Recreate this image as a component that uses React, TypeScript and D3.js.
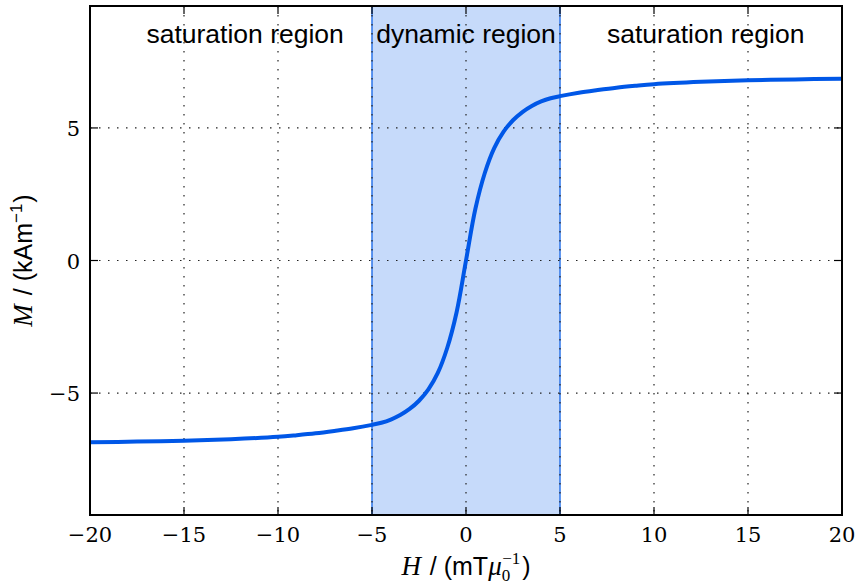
import React, { useEffect, useRef } from 'react';
import * as d3 from 'd3';

// magnetisation curve
const hValues = [-20, -17.5, -15, -12.5, -10, -9, -8, -7, -6, -5, -4.5, -4, -3.5, -3, -2.5, -2, -1.5, -1, -0.5, 0,
  0.5, 1, 1.5, 2, 2.5, 3, 3.5, 4, 4.5, 5, 6, 7, 8, 9, 10, 12.5, 15, 17.5, 20];
const mValues = [-6.86, -6.83, -6.8, -6.74, -6.65, -6.59, -6.52, -6.43, -6.33, -6.2, -6.12, -6.0, -5.83, -5.6, -5.29, -4.86, -4.24, -3.3, -1.95, 0,
  1.95, 3.3, 4.24, 4.86, 5.29, 5.6, 5.83, 6.0, 6.12, 6.2, 6.33, 6.43, 6.52, 6.59, 6.65, 6.74, 6.8, 6.83, 6.86];

const xTicks = [-20, -15, -10, -5, 0, 5, 10, 15, 20];
const yTicks = [-5, 0, 5];
const dynamicSpan = [-5, 5];
const regionLabels = ['saturation region', 'dynamic region', 'saturation region'];
const regionCenters = [-11.75, 0, 12.75];

const width = 858;
const height = 585;
const margin = { top: 6, right: 16, bottom: 70, left: 90 };

const serif = '"DejaVu Serif", "Liberation Serif", serif';
const mathSerif = '"Liberation Serif", "DejaVu Serif", serif';
const sans = '"Liberation Sans", Arial, sans-serif';

const fmt = (v: number) => (v < 0 ? `\u2212${Math.abs(v)}` : `${v}`);

export default function App() {
  const svgRef = useRef<SVGSVGElement | null>(null);

  useEffect(() => {
    if (!svgRef.current) return;
    const svg = d3.select(svgRef.current);
    svg.selectAll('*').remove();

    const innerWidth = width - margin.left - margin.right;
    const innerHeight = height - margin.top - margin.bottom;

    const x = d3.scaleLinear().domain([-20, 20]).range([0, innerWidth]);
    const y = d3.scaleLinear().domain([-9.6, 9.6]).range([innerHeight, 0]);

    const g = svg.append('g').attr('transform', `translate(${margin.left},${margin.top})`);

    // shaded dynamic region
    g.append('rect')
      .attr('x', x(dynamicSpan[0]))
      .attr('y', 0)
      .attr('width', x(dynamicSpan[1]) - x(dynamicSpan[0]))
      .attr('height', innerHeight)
      .attr('fill', '#c6dafa');
    dynamicSpan.forEach(v => {
      g.append('line')
        .attr('x1', x(v)).attr('x2', x(v))
        .attr('y1', 0).attr('y2', innerHeight)
        .attr('stroke', '#2b74ea')
        .attr('stroke-width', 1.5);
    });

    // grid
    g.selectAll('.vgrid')
      .data(xTicks.slice(1, -1))
      .join('line')
      .attr('x1', d => x(d)).attr('x2', d => x(d))
      .attr('y1', 0).attr('y2', innerHeight)
      .attr('stroke', '#222')
      .attr('stroke-width', 1.2)
      .attr('stroke-dasharray', '1.5 7.5');
    g.selectAll('.hgrid')
      .data(yTicks)
      .join('line')
      .attr('x1', 0).attr('x2', innerWidth)
      .attr('y1', d => y(d)).attr('y2', d => y(d))
      .attr('stroke', '#222')
      .attr('stroke-width', 1.2)
      .attr('stroke-dasharray', '1.5 7.5');

    // curve
    const points = hValues.map((h, i) => [h, mValues[i]] as [number, number]);
    const line = d3.line<[number, number]>()
      .x(d => x(d[0]))
      .y(d => y(d[1]))
      .curve(d3.curveCatmullRom.alpha(0.5));
    g.append('path')
      .datum(points)
      .attr('fill', 'none')
      .attr('stroke', '#0057e7')
      .attr('stroke-width', 4)
      .attr('stroke-linejoin', 'round')
      .attr('d', line);

    // region labels
    g.selectAll('.region')
      .data(regionLabels)
      .join('text')
      .attr('x', (_, i) => x(regionCenters[i]))
      .attr('y', 37)
      .attr('text-anchor', 'middle')
      .attr('font-family', sans)
      .attr('font-size', 26.5)
      .attr('fill', '#000')
      .text(d => d);

    // ticks (inward, all four sides)
    const tickLen = 8;
    xTicks.slice(1, -1).forEach(v => {
      g.append('line').attr('x1', x(v)).attr('x2', x(v)).attr('y1', innerHeight).attr('y2', innerHeight - tickLen).attr('stroke', '#000').attr('stroke-width', 1.2);
      g.append('line').attr('x1', x(v)).attr('x2', x(v)).attr('y1', 0).attr('y2', tickLen).attr('stroke', '#000').attr('stroke-width', 1.2);
    });
    yTicks.forEach(v => {
      g.append('line').attr('x1', 0).attr('x2', tickLen).attr('y1', y(v)).attr('y2', y(v)).attr('stroke', '#000').attr('stroke-width', 1.2);
      g.append('line').attr('x1', innerWidth).attr('x2', innerWidth - tickLen).attr('y1', y(v)).attr('y2', y(v)).attr('stroke', '#000').attr('stroke-width', 1.2);
    });

    // frame
    g.append('rect')
      .attr('width', innerWidth)
      .attr('height', innerHeight)
      .attr('fill', 'none')
      .attr('stroke', '#000')
      .attr('stroke-width', 2);

    // tick labels
    g.selectAll('.xtl')
      .data(xTicks)
      .join('text')
      .attr('x', d => x(d))
      .attr('y', innerHeight + 27)
      .attr('text-anchor', 'middle')
      .attr('font-family', serif)
      .attr('font-size', 21)
      .text(d => fmt(d));
    g.selectAll('.ytl')
      .data(yTicks)
      .join('text')
      .attr('x', -10)
      .attr('y', d => y(d) + 8)
      .attr('text-anchor', 'end')
      .attr('font-family', serif)
      .attr('font-size', 21)
      .text(d => fmt(d));

    // x axis label
    const xl = g.append('text')
      .attr('x', innerWidth / 2)
      .attr('y', innerHeight + 60)
      .attr('text-anchor', 'middle')
      .attr('font-size', 25);
    xl.append('tspan').attr('font-family', mathSerif).attr('font-style', 'italic').attr('font-size', 27).text('H');
    xl.append('tspan').attr('font-family', sans).attr('dx', 2).text(' / (mT');
    xl.append('tspan').attr('font-family', mathSerif).attr('font-style', 'italic').attr('font-size', 27).text('μ');
    xl.append('tspan').attr('font-family', mathSerif).attr('font-size', 17).attr('dy', 6).text('0');
    xl.append('tspan').attr('font-family', mathSerif).attr('font-size', 17).attr('dx', -8).attr('dy', -17).text('\u22121');
    xl.append('tspan').attr('font-family', sans).attr('dx', 2).attr('dy', 11).text(')');

    // y axis label
    const yl = g.append('text')
      .attr('transform', `translate(${-58},${innerHeight / 2}) rotate(-90)`)
      .attr('text-anchor', 'middle')
      .attr('font-size', 25);
    yl.append('tspan').attr('font-family', mathSerif).attr('font-style', 'italic').attr('font-size', 27).text('M');
    yl.append('tspan').attr('font-family', sans).attr('dx', 2).text(' / (kAm');
    yl.append('tspan').attr('font-family', sans).attr('font-size', 17).attr('dy', -10).text('\u22121');
    yl.append('tspan').attr('font-family', sans).attr('dx', 1).attr('dy', 10).text(')');
  }, []);

  return (
    <svg
      ref={svgRef}
      width={width}
      height={height}
      viewBox={`0 0 ${width} ${height}`}
      style={{ position: 'absolute', left: 0, top: 0, background: '#fff' }}
    />
  );
}
